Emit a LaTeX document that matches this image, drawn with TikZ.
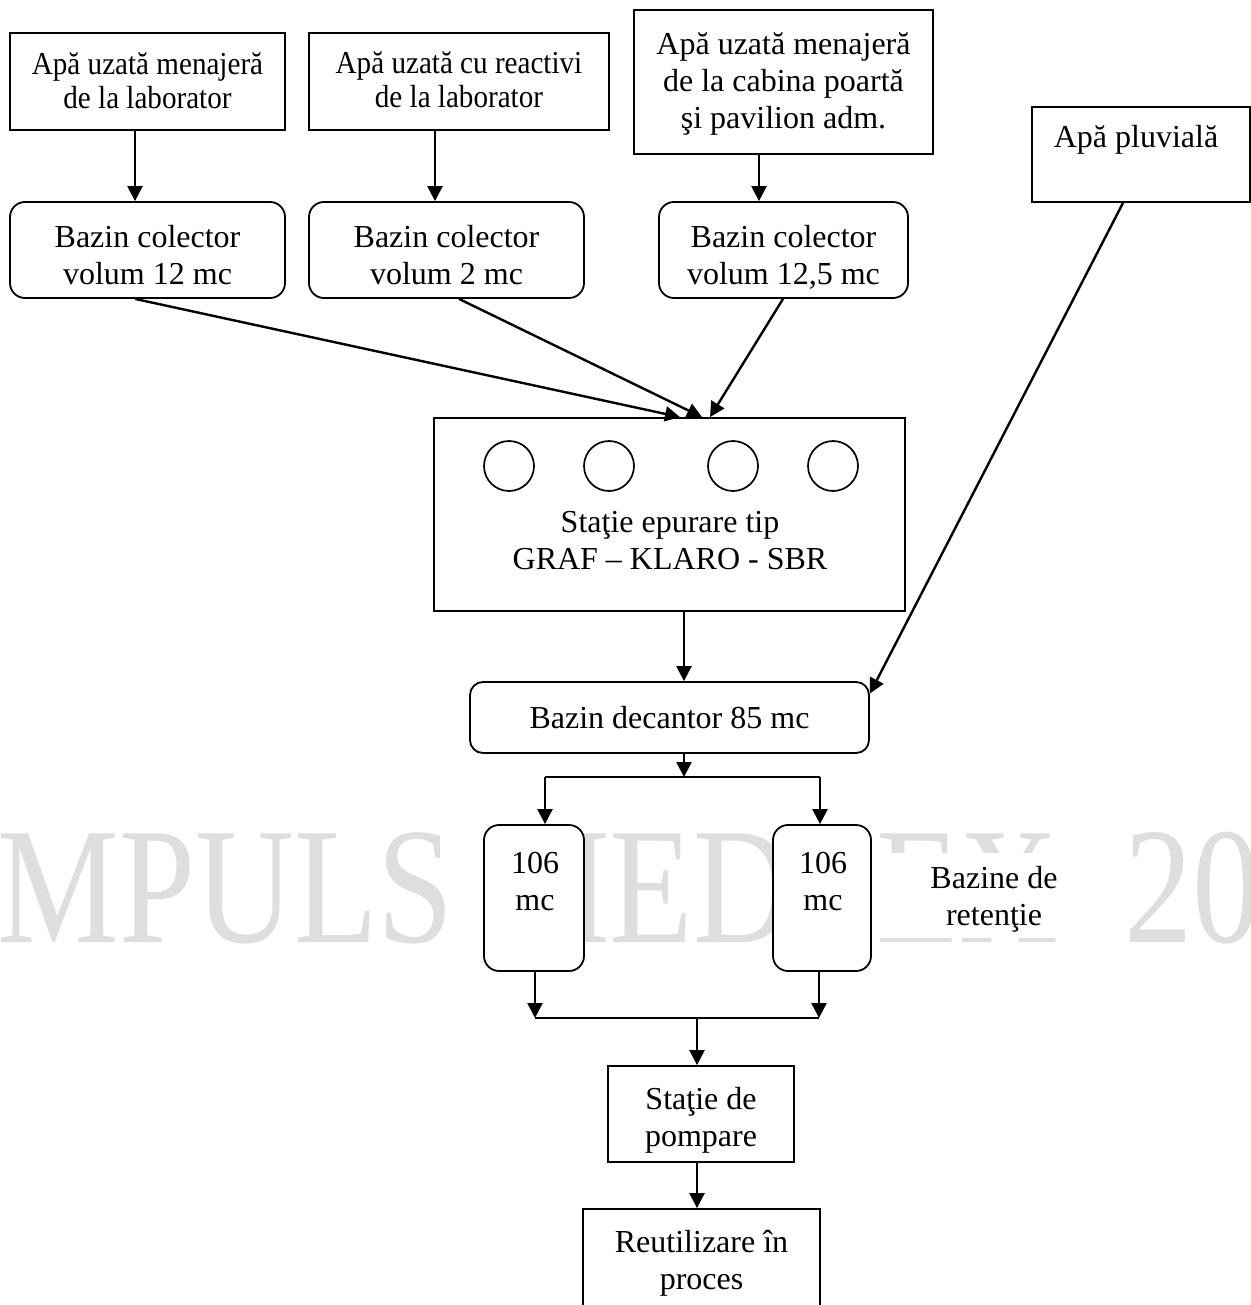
\documentclass[tikz,border=0pt]{standalone}
\usepackage{fontspec}
\setmainfont{Liberation Serif}
\usetikzlibrary{arrows.meta}
\definecolor{wmgray}{RGB}{222,222,222}
\newcommand\bodyfont{\fontsize{16pt}{18.5pt}\selectfont}
\newcommand\markfont{\fontsize{83pt}{83pt}\selectfont}
% two centred lines set a little narrower and tighter
\newcommand\narrowlines[2]{\scalebox{0.91}[1]{\fontsize{16pt}{17pt}\selectfont
  \begin{tabular}{@{}c@{}}#1\\#2\end{tabular}}}
\begin{document}
\begin{tikzpicture}[x=0.5pt,y=-0.5pt,
  box/.style={draw,line width=0.9pt,fill=white,inner sep=0pt,align=center,font=\bodyfont},
  rbox/.style={box,rounded corners=7.5pt},
  txt/.style={inner sep=0pt,align=center,font=\bodyfont},
  tank/.style={draw,circle,line width=0.85pt,minimum size=25pt,inner sep=0pt},
  arr/.style={line width=1.2pt,-{Triangle[length=7.5pt,width=7.5pt]}},
  link/.style={line width=1.2pt}]
\useasboundingbox (0,0) rectangle (1251,1305);
\clip (0,0) rectangle (1251,1305);

% background watermark
\node[anchor=base west,inner sep=0pt,text=wmgray,font=\markfont] (wm) at (-3,942)
  {\scalebox{0.825}[1]{MPULS MEDLEX\hspace{19pt} 20}};

% sources
\node[box,minimum width=137.5pt,minimum height=48.5pt] (A1) at (147.5,81.5) {};
\node[txt] (A1t) at (147.5,84.5) {\narrowlines{Apă uzată menajeră}{de la laborator}};
\node[box,minimum width=150pt,minimum height=48.5pt] (A2) at (459,81.5) {};
\node[txt] (A2t) at (459,84) {\narrowlines{Apă uzată cu reactivi}{de la laborator}};
\node[box,minimum width=149.5pt,minimum height=72pt] (A3) at (783.5,82) {};
\node[txt] (A3t) at (783.5,84) {Apă uzată menajeră\\de la cabina poartă\\şi pavilion adm.};
\node[box,minimum width=109pt,minimum height=47.5pt] (P) at (1141,154.5) {};
\node[txt] (Pt) at (1136,140) {Apă pluvială};

% collecting tanks
\node[rbox,minimum width=137.5pt,minimum height=48pt] (B1) at (147.5,250) {};
\node[rbox,minimum width=137.5pt,minimum height=48pt] (B2) at (446.5,250) {};
\node[rbox,minimum width=124.5pt,minimum height=48pt] (B3) at (783.5,250) {};
\node[txt] (B1t) at (147.5,255) {Bazin colector\\volum 12 mc};
\node[txt] (B2t) at (446.5,255) {Bazin colector\\volum 2 mc};
\node[txt] (B3t) at (783.5,257) {Bazin colector\\volum 12,5 mc};

% treatment plant
\node[box,minimum width=235.5pt,minimum height=96.5pt] (S) at (669.5,514.5) {};
\node[tank] (c1) at (509,466) {};
\node[tank] (c2) at (609,466) {};
\node[tank] (c3) at (733,466) {};
\node[tank] (c4) at (833,466) {};
\node[txt] (St) at (670,541) {Staţie epurare tip\\GRAF – KLARO - SBR};

% settling tank
\node[rbox,rounded corners=6.5pt,minimum width=199.5pt,minimum height=35.5pt] (D) at (669.5,717.5)
  {Bazin decantor 85 mc};

% retention tanks
\node[rbox,minimum width=50pt,minimum height=73pt] (R1) at (534,898) {};
\node[rbox,minimum width=49pt,minimum height=73pt] (R2) at (822,898) {};
\node[txt] (R1t) at (535,882) {106\\mc};
\node[txt] (R2t) at (823,882) {106\\mc};
\fill[white] (872,853) rectangle (1092,938);
\node[txt] (ret) at (994,899) {Bazine de\\retenţie};

% pumping and reuse
\node[box,minimum width=93pt,minimum height=48pt] (PS) at (701,1114) {};
\node[txt] (PSt) at (701,1120) {Staţie de\\pompare};
\node[box,minimum width=118.5pt,minimum height=51pt] (RU) at (701.5,1260) {};
\node[txt] (RUt) at (701.5,1263) {Reutilizare în\\proces};

% connector positions
\coordinate (k1) at (135,0);
\coordinate (k2) at (435,0);
\coordinate (k3) at (759,0);
\coordinate (m2) at (459,0);
\coordinate (m3) at (783,0);
\coordinate (t1) at (680,0);
\coordinate (t2) at (702,0);
\coordinate (t3) at (710,0);
\coordinate (kp) at (1123,0);
\coordinate (ks) at (684,0);
\coordinate (j0) at (684,777);
\coordinate (jl) at (545,777);
\coordinate (jr) at (820,777);
\coordinate (bl) at (535,1018);
\coordinate (br) at (819,1018);
\coordinate (bm) at (697,1018);

% flows
\draw[arr] (A1.south -| k1) -- (B1.north -| k1);
\draw[arr] (A2.south -| k2) -- (B2.north -| k2);
\draw[arr] (A3.south -| k3) -- (B3.north -| k3);
\draw[arr] (B1.south -| k1) -- (S.north -| t1);
\draw[arr] (B2.south -| m2) -- (S.north -| t2);
\draw[arr] (B3.south -| m3) -- (S.north -| t3);
\draw[arr] (P.south -| kp) -- ([yshift=12pt]D.east);
\draw[arr] (S.south -| ks) -- (D.north -| ks);
\draw[arr] (D.south -| ks) -- (j0);
\draw[link] (jl) -- (jr);
\draw[arr] (jl) -- (R1.north -| jl);
\draw[arr] (jr) -- (R2.north -| jr);
\draw[arr] (R1.south -| bl) -- (bl);
\draw[arr] (R2.south -| br) -- (br);
\draw[link] (bl) -- (br);
\draw[arr] (bm) -- (PS.north -| bm);
\draw[arr] (PS.south -| bm) -- (RU.north -| bm);
\end{tikzpicture}
\end{document}
